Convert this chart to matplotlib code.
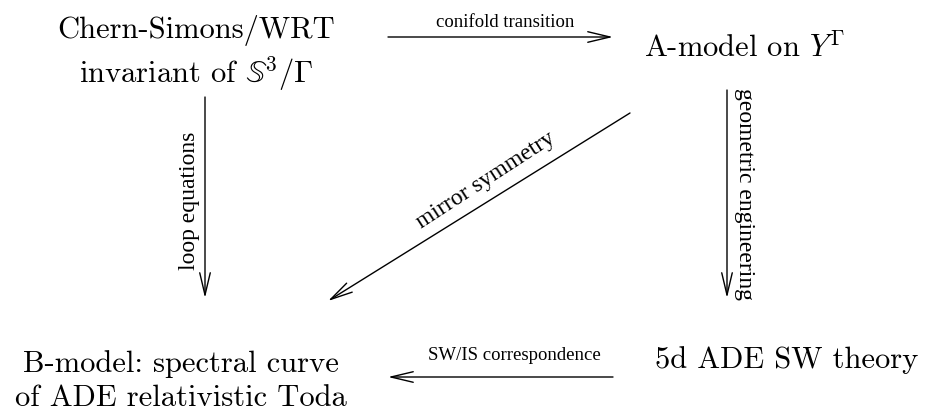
import matplotlib
matplotlib.use('Agg')
import matplotlib.pyplot as plt
from matplotlib.patches import FancyArrowPatch

plt.rcParams['font.family'] = 'cmr10'
plt.rcParams['mathtext.fontset'] = 'cm'
plt.rcParams['axes.formatter.use_mathtext'] = True

# nodes of the diagram (text, x, y) in pixel coordinates
node_texts = ['Chern-Simons/WRT\ninvariant of $\\mathbb{S}^3/\\Gamma$',
              'A-model on $Y^{\\Gamma}$',
              'B-model: spectral curve\nof ADE relativistic Toda',
              '5d ADE SW theory']
node_x = [196, 745, 181, 787]
node_y = [54, 47, 381, 360]

# arrows: start, end, label, label position, label rotation, label size
arrow_start = [(388, 37), (205, 97), (727, 90), (630, 113), (613, 377)]
arrow_end = [(613, 37), (205, 298), (727, 298), (328, 301), (388, 377)]
arrow_labels = ['conifold transition', 'loop equations', 'geometric engineering',
                'mirror symmetry', 'SW/IS correspondence']
label_x = [505, 190, 745, 486, 514]
label_y = [22, 201, 194, 180, 356]
label_rot = [0, 90, -90, 33, 0]
label_size = [13.5, 17, 17, 17, 13.5]

fig = plt.figure(figsize=(9.25, 4.17), dpi=100)
ax = fig.add_axes([0, 0, 1, 1])
ax.set_xlim(0, 925)
ax.set_ylim(417, 0)
ax.axis('off')

for t, x, y in zip(node_texts, node_x, node_y):
    ax.text(x, y, t, ha='center', va='center', fontsize=22, linespacing=1.3)

for s, e, lab, lx, ly, rot, fs in zip(arrow_start, arrow_end, arrow_labels,
                                      label_x, label_y, label_rot, label_size):
    arr = FancyArrowPatch(s, e, arrowstyle='->,head_length=1.6,head_width=0.38',
                          mutation_scale=10, lw=1.0, color='black',
                          shrinkA=0, shrinkB=0)
    ax.add_patch(arr)
    ax.text(lx, ly, lab, ha='center', va='center', rotation=rot,
            rotation_mode='anchor', fontsize=fs, family='Liberation Serif')

fig.savefig('out.png', dpi=100)
